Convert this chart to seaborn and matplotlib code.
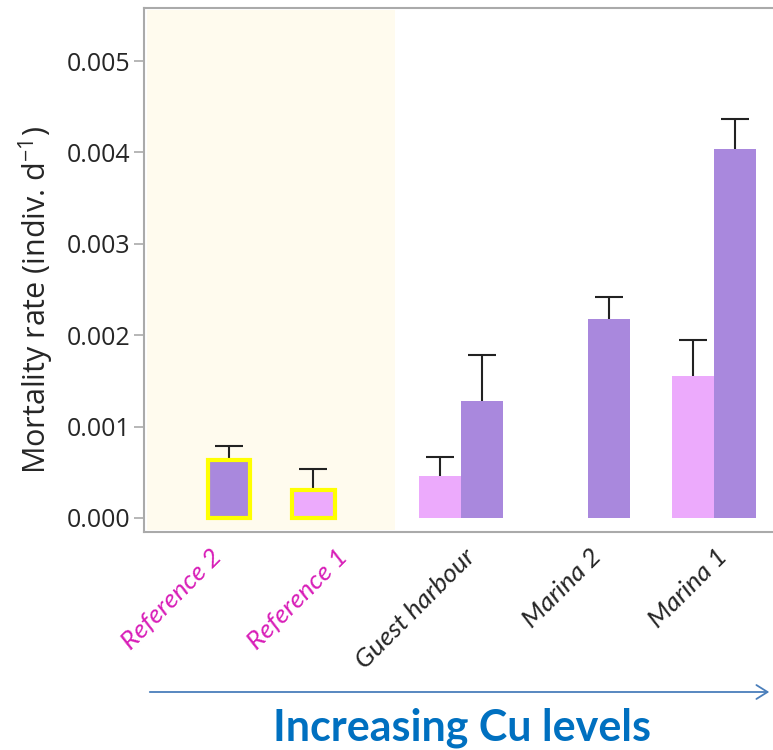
import matplotlib
matplotlib.use('Agg')
import matplotlib.pyplot as plt
import matplotlib.transforms as mtrans
import seaborn as sns
import pandas as pd

# Data
sites = ['Reference 2', 'Reference 1', 'Guest harbour', 'Marina 2', 'Marina 1']
series = ['A', 'B']
site_col = ['Reference 2', 'Reference 1', 'Guest harbour', 'Guest harbour', 'Marina 2', 'Marina 1', 'Marina 1']
series_col = ['B', 'A', 'A', 'B', 'B', 'A', 'B']
rate = [0.00063, 0.00031, 0.00046, 0.00128, 0.00218, 0.00155, 0.00404]
err = [0.00016, 0.00023, 0.00021, 0.00050, 0.00024, 0.00040, 0.00033]
y_ticks = [0.000, 0.001, 0.002, 0.003, 0.004, 0.005]

df = pd.DataFrame({'site': site_col, 'series': series_col, 'rate': rate, 'err': err})

sns.set_style("white")
plt.rcParams['mathtext.default'] = 'regular'

pink = '#ECAAFC'
purple = '#A988DD'
magenta = '#D81EB8'

fig = plt.figure(figsize=(7.73, 7.5), dpi=100)
ax = fig.add_axes([0.1863, 0.2907, 0.8137, 0.6986])

# shaded background behind reference sites
ax.axvspan(-0.48, 1.478, ymin=0.004, ymax=0.996, color='#FFFBEE', zorder=0, lw=0)

sns.barplot(data=df, x='site', y='rate', hue='series', order=sites, hue_order=series,
            palette={'A': pink, 'B': purple}, width=0.667, errorbar=None,
            saturation=1, legend=False, ax=ax)

# one-sided error bars and yellow frames for the reference sites
for cont, lvl in zip(ax.containers, series):
    for bar in cont:
        h = bar.get_height()
        if pd.isna(h) or h == 0:
            continue
        bar.set_zorder(3)
        bar.set_linewidth(0)
        xc = bar.get_x() + bar.get_width() / 2
        site = sites[int(round(xc))]
        row = df[(df['site'] == site) & (df['series'] == lvl)].iloc[0]
        eb = ax.errorbar(xc, row['rate'], yerr=[[0], [row['err']]], fmt='none',
                         ecolor='#222222', elinewidth=1.5, capsize=10, capthick=1.5, zorder=2)
        # keep only the upper cap
        for cap in eb[1]:
            if cap.get_ydata()[0] <= row['rate']:
                cap.remove()
        if site.startswith('Reference'):
            bar.set_edgecolor('#FFFF00')
            bar.set_linewidth(3)

ax.set_xlim(-0.506, 4.466)
ax.set_ylim(-0.000153, 0.00558)
ax.set_yticks(y_ticks)
ax.set_yticklabels([f'{v:.3f}' for v in y_ticks], fontsize=18, family='Open Sans')
ax.tick_params(axis='y', which='both', left=True, length=7, color='#AAAAAA', width=1.2, pad=3)
ax.tick_params(axis='x', length=0, pad=15)

ax.set_xticks(range(len(sites)))
ax.set_xticklabels(sites, rotation=45, ha='right', va='center', rotation_mode='anchor',
                   fontsize=19, family='Lato', style='italic')
shift = mtrans.ScaledTranslation(10 / 100, 0, fig.dpi_scale_trans)
for lab in ax.get_xticklabels():
    lab.set_transform(lab.get_transform() + shift)
    if lab.get_text().startswith('Reference'):
        lab.set_color(magenta)

ax.set_xlabel('')
ax.set_ylabel('Mortality rate (indiv. d$^{-1}$)', fontsize=22, family='Open Sans')
ax.yaxis.set_label_coords(-0.14, 0.443)

for side in ['left', 'top', 'bottom']:
    ax.spines[side].set_color('#AAAAAA')
    ax.spines[side].set_linewidth(1.5)
ax.spines['right'].set_visible(False)

# arrow and caption below the axis
fig.patches.append(matplotlib.patches.FancyArrowPatch(
    (147 / 773, 1 - 692 / 750), (772 / 773, 1 - 692 / 750), transform=fig.transFigure,
    arrowstyle='->,head_length=8,head_width=5', color='#4A7EBB', lw=1.3))
fig.text(462 / 773, 1 - 728 / 750, 'Increasing Cu levels', ha='center', va='center',
         fontsize=31, fontweight='bold', family='Lato', color='#0070C0')

plt.savefig('out.png', dpi=100)
